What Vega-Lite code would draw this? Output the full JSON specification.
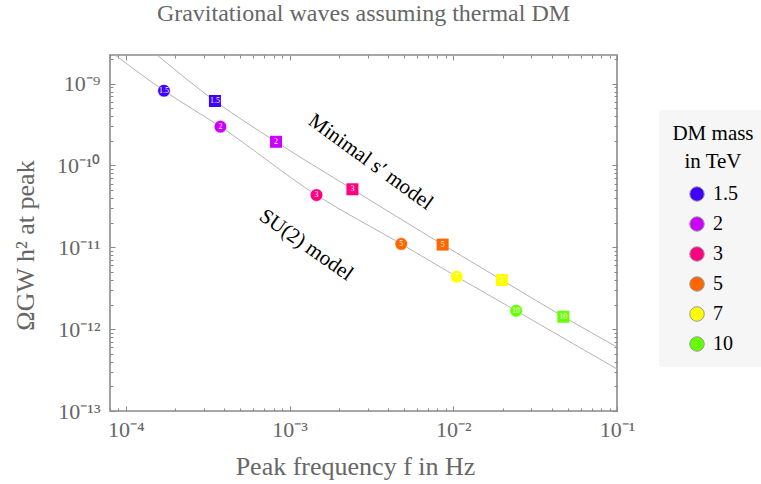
{
  "$schema": "https://vega.github.io/schema/vega-lite/v6.json",
  "autosize": {"type": "none"},
  "width": 507,
  "height": 356,
  "padding": {"left": 110, "top": 55, "right": 144, "bottom": 73},
  "background": "white",
  "title": {"text": "Gravitational waves assuming thermal DM", "anchor": "middle", "frame": "group", "offset": 10, "baseline": "alphabetic", "font": "Liberation Serif", "fontSize": 24, "fontWeight": "normal", "color": "#666"},
  "datasets": {
    "markers": [
      {"model": "SU(2)", "mass": "1.5", "f": 1.71e-4, "omega": 8.20e-10},
      {"model": "SU(2)", "mass": "2", "f": 3.78e-4, "omega": 2.98e-10},
      {"model": "SU(2)", "mass": "3", "f": 1.46e-3, "omega": 4.35e-11},
      {"model": "SU(2)", "mass": "5", "f": 4.81e-3, "omega": 1.10e-11},
      {"model": "SU(2)", "mass": "7", "f": 1.05e-2, "omega": 4.38e-12},
      {"model": "SU(2)", "mass": "10", "f": 2.42e-2, "omega": 1.68e-12},
      {"model": "Minimal s'", "mass": "1.5", "f": 3.50e-4, "omega": 6.14e-10},
      {"model": "Minimal s'", "mass": "2", "f": 8.26e-4, "omega": 1.95e-10},
      {"model": "Minimal s'", "mass": "3", "f": 2.42e-3, "omega": 5.12e-11},
      {"model": "Minimal s'", "mass": "5", "f": 8.61e-3, "omega": 1.08e-11},
      {"model": "Minimal s'", "mass": "7", "f": 1.98e-2, "omega": 3.99e-12},
      {"model": "Minimal s'", "mass": "10", "f": 4.70e-2, "omega": 1.42e-12}
    ],
    "lines": [
      {"model": "SU(2)", "order": 0, "f": 8.58e-5, "omega": 2.24e-9},
      {"model": "SU(2)", "order": 1, "f": 1.71e-4, "omega": 8.20e-10},
      {"model": "SU(2)", "order": 2, "f": 3.78e-4, "omega": 2.98e-10},
      {"model": "SU(2)", "order": 3, "f": 1.46e-3, "omega": 4.35e-11},
      {"model": "SU(2)", "order": 4, "f": 4.81e-3, "omega": 1.10e-11},
      {"model": "SU(2)", "order": 5, "f": 1.05e-2, "omega": 4.38e-12},
      {"model": "SU(2)", "order": 6, "f": 2.42e-2, "omega": 1.68e-12},
      {"model": "SU(2)", "order": 7, "f": 0.1, "omega": 3.26e-13},
      {"model": "Minimal s'", "order": 0, "f": 1.55e-4, "omega": 2.24e-9},
      {"model": "Minimal s'", "order": 1, "f": 3.50e-4, "omega": 6.14e-10},
      {"model": "Minimal s'", "order": 2, "f": 8.26e-4, "omega": 1.95e-10},
      {"model": "Minimal s'", "order": 3, "f": 2.42e-3, "omega": 5.12e-11},
      {"model": "Minimal s'", "order": 4, "f": 8.61e-3, "omega": 1.08e-11},
      {"model": "Minimal s'", "order": 5, "f": 1.98e-2, "omega": 3.99e-12},
      {"model": "Minimal s'", "order": 6, "f": 4.70e-2, "omega": 1.42e-12},
      {"model": "Minimal s'", "order": 7, "f": 0.1, "omega": 6.05e-13}
    ],
    "annotations": [{"note": "Minimal s′ model"}, {"note": "SU(2) model"}]
  },
  "resolve": {"axis": {"x": "independent", "y": "independent"}},
  "layer": [
    {
      "data": {"name": "lines"},
      "mark": {"type": "line", "color": "#b4b4b4", "strokeWidth": 1, "clip": true, "interpolate": "monotone"},
      "encoding": {
        "x": {"field": "f", "type": "quantitative", "scale": {"type": "log", "domain": [8e-5, 0.1], "nice": false},
          "axis": {"orient": "bottom", "values": [1e-4, 1e-3, 1e-2, 1e-1], "ticks": false, "labelPadding": 8,
            "labelExpr": "datum.value < 5e-4 ? '10⁻⁴' : datum.value < 5e-3 ? '10⁻³' : datum.value < 5e-2 ? '10⁻²' : '10⁻¹'",
            "title": "Peak frequency f in Hz", "titleX": 245, "titleY": 55, "titleBaseline": "middle"}},
        "y": {"field": "omega", "type": "quantitative", "scale": {"type": "log", "domain": [1e-13, 2.24e-9], "nice": false},
          "axis": {"orient": "left", "values": [1e-13, 1e-12, 1e-11, 1e-10, 1e-9], "ticks": false, "labelPadding": 10,
            "labelExpr": "datum.value < 5e-13 ? '10⁻¹³' : datum.value < 5e-12 ? '10⁻¹²' : datum.value < 5e-11 ? '10⁻¹¹' : datum.value < 5e-10 ? '10⁻¹⁰' : '10⁻⁹'",
            "title": "ΩGW h² at peak", "titleX": -85, "titleY": 190, "titleBaseline": "middle", "titleAngle": -90, "titleFontSize": 26}},
        "detail": {"field": "model"},
        "order": {"field": "order"}
      }
    },
    {
      "data": {"name": "markers"},
      "transform": [{"filter": "datum.model == 'SU(2)'"}],
      "mark": {"type": "circle", "size": 160, "opacity": 1, "stroke": "white", "strokeWidth": 0.6},
      "encoding": {
        "x": {"field": "f", "type": "quantitative", "scale": {"type": "log", "domain": [8e-5, 0.1], "nice": false},
          "axis": {"orient": "bottom", "values": [1e-4, 1e-3, 1e-2, 1e-1], "labels": false, "title": null, "tickSize": -5}},
        "y": {"field": "omega", "type": "quantitative", "scale": {"type": "log", "domain": [1e-13, 2.24e-9], "nice": false},
          "axis": {"orient": "left", "values": [1e-13, 1e-12, 1e-11, 1e-10, 1e-9], "labels": false, "title": null, "tickSize": -5}},
        "fill": {"field": "mass", "type": "nominal",
          "scale": {"domain": ["1.5", "2", "3", "5", "7", "10"], "range": ["#4000ff", "#cc00ff", "#ff0080", "#ff6600", "#ffff00", "#66ff00"]},
          "legend": {"orient": "none", "legendX": 549, "legendY": 55, "title": ["DM mass", "in TeV"],
            "titleFont": "Liberation Serif", "titleFontSize": 21, "titleFontWeight": "normal", "titleColor": "black",
            "titleAlign": "center", "titleAnchor": "middle", "titleLineHeight": 28, "titlePadding": 12,
            "labelFont": "Liberation Serif", "labelFontSize": 20, "labelColor": "black",
            "symbolType": "circle", "symbolSize": 210, "symbolStrokeColor": "#999", "symbolStrokeWidth": 1, "symbolOpacity": 1,
            "symbolOffset": 0, "labelOffset": 6, "rowPadding": 10, "padding": 13,
            "fillColor": "#f6f6f6", "cornerRadius": 3}}
      }
    },
    {
      "data": {"name": "markers"},
      "transform": [{"filter": "datum.model != 'SU(2)'"}],
      "mark": {"type": "point", "shape": "square", "filled": true, "size": 144, "opacity": 1},
      "encoding": {
        "x": {"field": "f", "type": "quantitative", "scale": {"type": "log", "domain": [8e-5, 0.1], "nice": false},
          "axis": {"orient": "bottom", "values": [8e-5, 9e-5, 2e-4, 3e-4, 4e-4, 5e-4, 6e-4, 7e-4, 8e-4, 9e-4, 2e-3, 3e-3, 4e-3, 5e-3, 6e-3, 7e-3, 8e-3, 9e-3, 2e-2, 3e-2, 4e-2, 5e-2, 6e-2, 7e-2, 8e-2, 9e-2], "labels": false, "title": null, "tickSize": -3}},
        "y": {"field": "omega", "type": "quantitative", "scale": {"type": "log", "domain": [1e-13, 2.24e-9], "nice": false},
          "axis": {"orient": "left", "values": [2e-13, 3e-13, 4e-13, 5e-13, 6e-13, 7e-13, 8e-13, 9e-13, 2e-12, 3e-12, 4e-12, 5e-12, 6e-12, 7e-12, 8e-12, 9e-12, 2e-11, 3e-11, 4e-11, 5e-11, 6e-11, 7e-11, 8e-11, 9e-11, 2e-10, 3e-10, 4e-10, 5e-10, 6e-10, 7e-10, 8e-10, 9e-10, 2e-9], "labels": false, "title": null, "tickSize": -3}},
        "fill": {"field": "mass", "type": "nominal", "scale": {"domain": ["1.5", "2", "3", "5", "7", "10"], "range": ["#4000ff", "#cc00ff", "#ff0080", "#ff6600", "#ffff00", "#66ff00"]}}
      }
    },
    {
      "data": {"name": "markers"},
      "mark": {"type": "text", "color": "white", "font": "Liberation Serif", "fontSize": 8, "align": "center", "baseline": "middle"},
      "encoding": {
        "x": {"field": "f", "type": "quantitative", "scale": {"type": "log", "domain": [8e-5, 0.1], "nice": false},
          "axis": {"orient": "top", "values": [1e-4, 1e-3, 1e-2, 1e-1], "labels": false, "title": null, "tickSize": -5}},
        "y": {"field": "omega", "type": "quantitative", "scale": {"type": "log", "domain": [1e-13, 2.24e-9], "nice": false},
          "axis": {"orient": "right", "values": [1e-13, 1e-12, 1e-11, 1e-10, 1e-9], "labels": false, "title": null, "tickSize": -5}},
        "text": {"field": "mass"}
      }
    },
    {
      "data": {"name": "annotations"},
      "transform": [{"filter": "datum.note == 'Minimal s′ model'"}],
      "mark": {"type": "text", "angle": 36, "font": "Liberation Serif", "fontSize": 21, "color": "black", "align": "center", "baseline": "middle"},
      "encoding": {
        "x": {"datum": 3.12e-3, "type": "quantitative", "scale": {"type": "log", "domain": [8e-5, 0.1], "nice": false},
          "axis": {"orient": "top", "values": [8e-5, 9e-5, 2e-4, 3e-4, 4e-4, 5e-4, 6e-4, 7e-4, 8e-4, 9e-4, 2e-3, 3e-3, 4e-3, 5e-3, 6e-3, 7e-3, 8e-3, 9e-3, 2e-2, 3e-2, 4e-2, 5e-2, 6e-2, 7e-2, 8e-2, 9e-2], "labels": false, "title": null, "tickSize": -3}},
        "y": {"datum": 1.10e-10, "type": "quantitative", "scale": {"type": "log", "domain": [1e-13, 2.24e-9], "nice": false},
          "axis": {"orient": "right", "values": [2e-13, 3e-13, 4e-13, 5e-13, 6e-13, 7e-13, 8e-13, 9e-13, 2e-12, 3e-12, 4e-12, 5e-12, 6e-12, 7e-12, 8e-12, 9e-12, 2e-11, 3e-11, 4e-11, 5e-11, 6e-11, 7e-11, 8e-11, 9e-11, 2e-10, 3e-10, 4e-10, 5e-10, 6e-10, 7e-10, 8e-10, 9e-10, 2e-9], "labels": false, "title": null, "tickSize": -3}},
        "text": {"field": "note"}
      }
    },
    {
      "data": {"name": "annotations"},
      "transform": [{"filter": "datum.note == 'SU(2) model'"}],
      "mark": {"type": "text", "angle": 35, "font": "Liberation Serif", "fontSize": 21, "color": "black", "align": "center", "baseline": "middle"},
      "encoding": {
        "x": {"datum": 1.26e-3, "type": "quantitative", "scale": {"type": "log", "domain": [8e-5, 0.1], "nice": false}, "axis": null},
        "y": {"datum": 1.06e-11, "type": "quantitative", "scale": {"type": "log", "domain": [1e-13, 2.24e-9], "nice": false}, "axis": null},
        "text": {"field": "note"}
      }
    }
  ],
  "config": {
    "view": {"stroke": "#8a8a8a", "strokeWidth": 1.6},
    "axis": {"grid": false, "domain": false, "labelFont": "Liberation Serif", "labelFontSize": 22, "labelColor": "#666",
      "titleFont": "Liberation Serif", "titleFontSize": 26, "titleColor": "#666", "titleFontWeight": "normal",
      "tickColor": "#888", "tickWidth": 1, "labelFlush": false, "labelOverlap": false}
  }
}
